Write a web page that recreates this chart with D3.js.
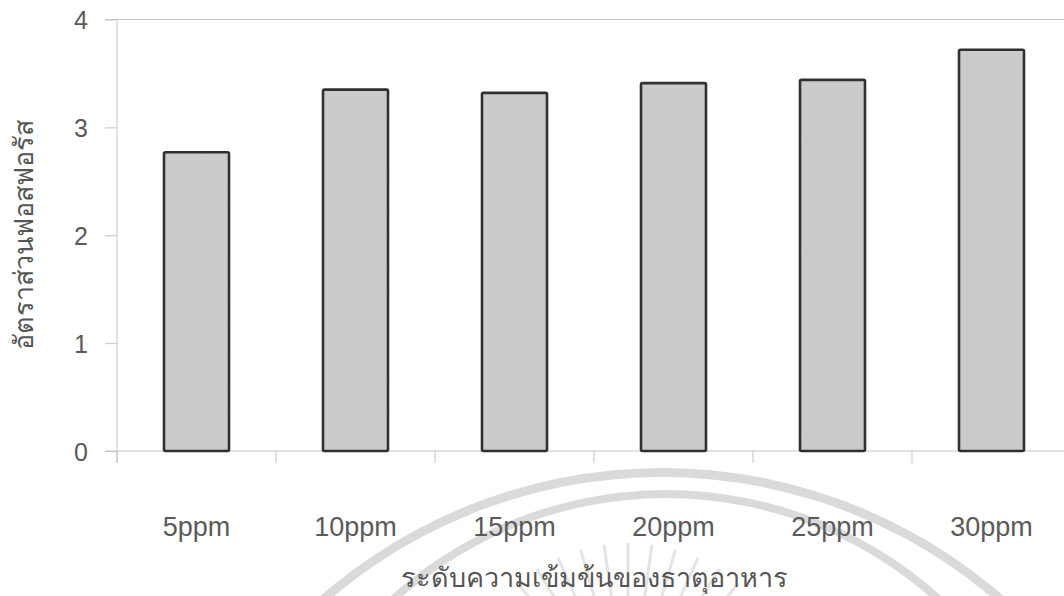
<!DOCTYPE html>
<html>
<head>
<meta charset="utf-8">
<script src="https://cdn.jsdelivr.net/npm/d3@7/dist/d3.min.js"></script>
<style>
  html, body { margin: 0; padding: 0; background: #fff; }
  svg { display: block; }
  .tick-label { font-family: "Liberation Sans", Arial, sans-serif; fill: #5a5a5a; }
  .title { font-family: "Noto Sans", "DejaVu Sans", sans-serif; fill: #555; }
</style>
</head>
<body>
<svg id="chart" width="1064" height="596"></svg>
<script>
// Phosphorus ratio by nutrient concentration level
const categories = ["5ppm", "10ppm", "15ppm", "20ppm", "25ppm", "30ppm"];
const ratioValues = [2.77, 3.35, 3.32, 3.41, 3.44, 3.72];
const yTickValues = [0, 1, 2, 3, 4];
const xTitle = "ระดับความเข้มข้นของธาตุอาหาร";
const yTitle = "อัตราส่วนฟอสฟอรัส";

const W = 1064, H = 596;
const plot = { left: 117, right: 1071, top: 19.5, bottom: 451 };

const svg = d3.select("#chart");

// speckled fill for the bars
const defs = svg.append("defs");
const speckle = defs.append("filter").attr("id", "speckle")
  .attr("x", 0).attr("y", 0).attr("width", 1).attr("height", 1);
speckle.append("feTurbulence").attr("type", "fractalNoise")
  .attr("baseFrequency", 0.9).attr("numOctaves", 1).attr("seed", 4).attr("result", "noise");
speckle.append("feColorMatrix").attr("in", "noise").attr("type", "matrix")
  .attr("values", "0 0 0 0 0.6  0 0 0 0 0.6  0 0 0 0 0.6  0 0 0 -1.0 0.7")
  .attr("result", "dots");
speckle.append("feComposite").attr("in", "dots").attr("in2", "SourceGraphic")
  .attr("operator", "in").attr("result", "dotsIn");
speckle.append("feMerge").call(m => {
  m.append("feMergeNode").attr("in", "SourceGraphic");
  m.append("feMergeNode").attr("in", "dotsIn");
});

// faint emblem behind the lower part of the chart
const emblem = svg.append("g").attr("class", "emblem");
const arcGen = d3.arc();
[
  { cx: 662, cy: 988, r0: 511, r1: 520 },
  { cx: 666, cy: 900, r0: 402, r1: 410 }
].forEach(a => {
  emblem.append("path")
    .attr("transform", `translate(${a.cx},${a.cy})`)
    .attr("d", arcGen({ innerRadius: a.r0, outerRadius: a.r1, startAngle: -Math.PI / 2, endAngle: Math.PI / 2 }))
    .attr("fill", "#dadada");
});
const rayAngles = d3.range(-48, 49, 8);
emblem.selectAll("line.ray").data(rayAngles).join("line")
  .attr("class", "ray")
  .attr("x1", d => 628 + 115 * Math.sin(d * Math.PI / 180))
  .attr("y1", d => 715 - 115 * Math.cos(d * Math.PI / 180))
  .attr("x2", d => 628 + 172 * Math.sin(d * Math.PI / 180))
  .attr("y2", d => 715 - 172 * Math.cos(d * Math.PI / 180))
  .attr("stroke", "#e4e4e4").attr("stroke-width", 3);

// scales
const x = d3.scaleBand().domain(categories)
  .range([plot.left, plot.right])
  .paddingInner(94 / 159).paddingOuter(47 / 159);
const y = d3.scaleLinear().domain([0, 4]).range([plot.bottom, plot.top]);

const axisColor = "#c4c4c4";

// top line at the axis maximum
svg.append("line")
  .attr("x1", plot.left - 12).attr("x2", W)
  .attr("y1", y(4)).attr("y2", y(4))
  .attr("stroke", axisColor).attr("stroke-width", 1);

// y axis
const yAxis = svg.append("g")
  .attr("transform", `translate(${plot.left},0)`)
  .call(d3.axisLeft(y).tickValues(yTickValues).tickSize(12).tickPadding(17).tickFormat(d3.format("d")));
yAxis.select(".domain").remove();
yAxis.append("line")
  .attr("x1", 0).attr("x2", 0).attr("y1", y(4)).attr("y2", plot.bottom + 12)
  .attr("stroke", axisColor);
yAxis.selectAll(".tick line").attr("stroke", axisColor);
yAxis.selectAll(".tick text")
  .attr("class", "tick-label")
  .style("font-size", "25px")
  .attr("dy", "0.36em");

// x axis: baseline, category boundary ticks, labels
svg.append("line")
  .attr("x1", plot.left - 12).attr("x2", W)
  .attr("y1", y(0)).attr("y2", y(0))
  .attr("stroke", axisColor);
const boundaries = categories.map(c => x(c) + x.bandwidth() / 2 - x.step() / 2);
svg.selectAll("line.cat-tick").data(boundaries).join("line")
  .attr("class", "cat-tick")
  .attr("x1", d => d).attr("x2", d => d)
  .attr("y1", y(0)).attr("y2", y(0) + 12)
  .attr("stroke", axisColor);

const xAxis = svg.append("g")
  .attr("transform", `translate(0,${y(0)})`)
  .call(d3.axisBottom(x).tickSize(0).tickPadding(0));
xAxis.select(".domain").remove();
xAxis.selectAll(".tick text")
  .attr("class", "tick-label")
  .style("font-size", "27px")
  .attr("y", 85).attr("dy", 0);

// bars: textured fill, then outline on top
const bars = svg.append("g");
bars.selectAll("rect.fill").data(categories).join("rect")
  .attr("class", "fill")
  .attr("x", c => x(c))
  .attr("y", (c, i) => y(ratioValues[i]))
  .attr("width", x.bandwidth())
  .attr("height", (c, i) => y(0) - y(ratioValues[i]))
  .attr("fill", "#cbcbcb")
  .attr("filter", "url(#speckle)");
bars.selectAll("rect.outline").data(categories).join("rect")
  .attr("class", "outline")
  .attr("x", c => x(c))
  .attr("y", (c, i) => y(ratioValues[i]))
  .attr("width", x.bandwidth())
  .attr("height", (c, i) => y(0) - y(ratioValues[i]))
  .attr("rx", 1.5)
  .attr("fill", "none")
  .attr("stroke", "#303030")
  .attr("stroke-width", 2.6);

// axis titles
svg.append("text").attr("class", "title")
  .attr("x", (plot.left + plot.right) / 2).attr("y", 587)
  .attr("text-anchor", "middle")
  .style("font-size", "27px")
  .text(xTitle);

svg.append("text").attr("class", "title")
  .attr("transform", `translate(33,${(plot.top + plot.bottom) / 2}) rotate(-90)`)
  .attr("text-anchor", "middle")
  .style("font-size", "27px")
  .text(yTitle);
</script>
</body>
</html>
